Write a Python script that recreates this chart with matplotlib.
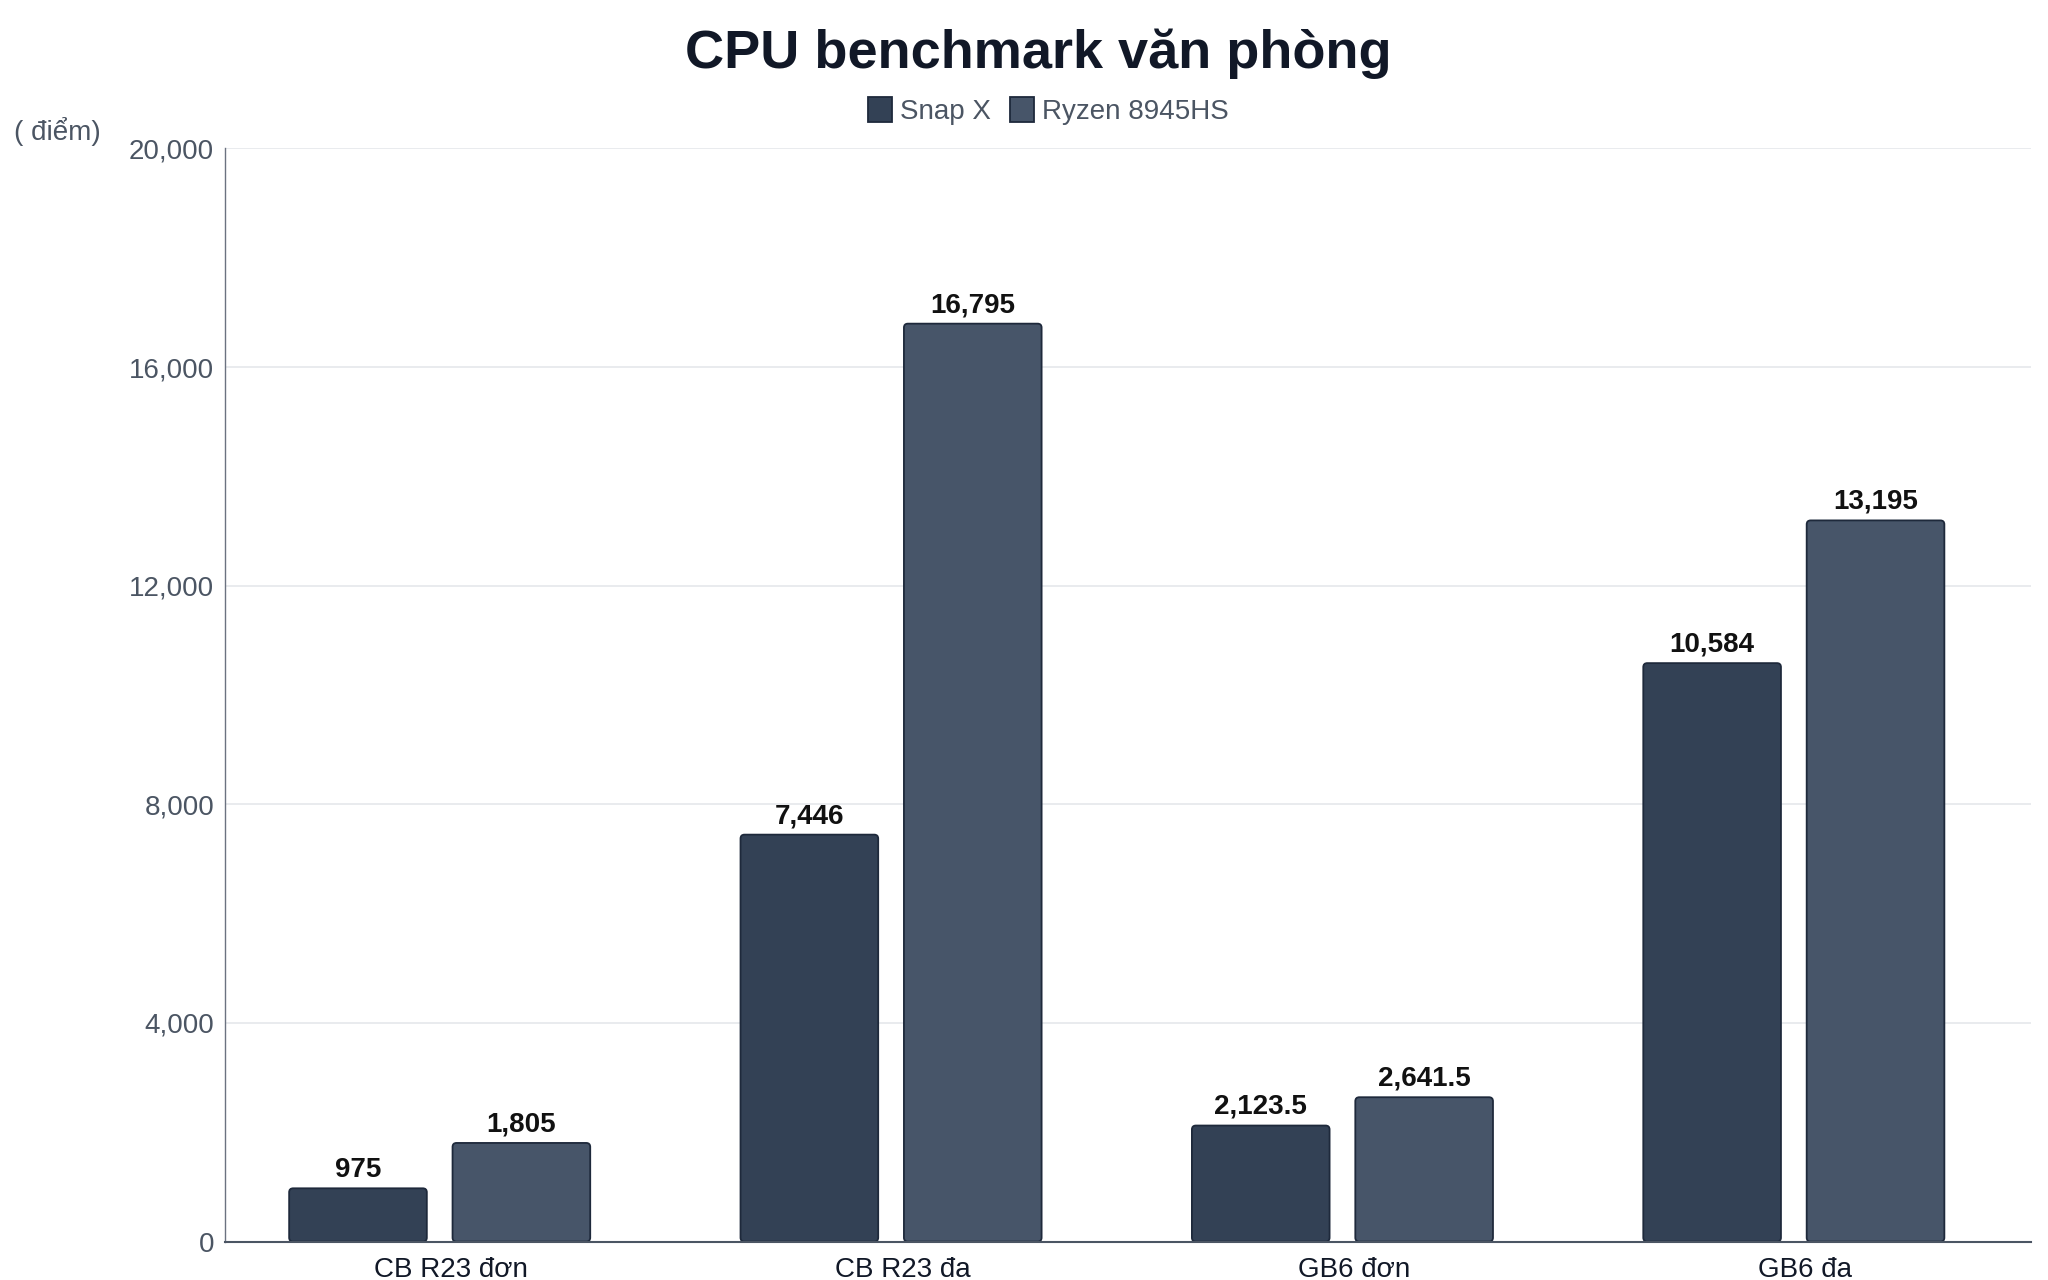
import matplotlib
matplotlib.use("Agg")
import matplotlib.pyplot as plt
from matplotlib.patches import FancyBboxPatch, Patch
import numpy as np

plt.rcParams['font.family'] = ['Liberation Sans', 'DejaVu Sans']

# Data
categories = ['CB R23 đơn', 'CB R23 đa', 'GB6 đơn', 'GB6 đa']
series_names = ['Snap X', 'Ryzen 8945HS']
snap_x = [975, 7446, 2123.5, 10584]
ryzen = [1805, 16795, 2641.5, 13195]
y_ticks = [0, 4000, 8000, 12000, 16000, 20000]

colors = ['#334155', '#475569']
edge = '#1e293b'

fig = plt.figure(figsize=(20.48, 12.8), dpi=100)
ax = fig.add_axes([0.110, 0.030, 0.8816, 0.854])
ax.set_xlim(-0.5, len(categories) - 0.5)
ax.set_ylim(0, 20000)

x = np.arange(len(categories))
width = 0.305
b1 = ax.bar(x - 0.206, snap_x, width, color=colors[0], zorder=3)
b2 = ax.bar(x + 0.156, ryzen, width, color=colors[1], zorder=3)

# swap plain rectangles for slightly rounded ones
fig.canvas.draw()
bb = ax.get_window_extent()
px_x = bb.width / (len(categories))          # pixels per x unit
px_y = bb.height / 20000                       # pixels per y unit
aspect = px_x / px_y
for bars, c in ((b1, colors[0]), (b2, colors[1])):
    for r in bars:
        r.set_visible(False)
        p = FancyBboxPatch((r.get_x(), 0), r.get_width(), r.get_height(),
                           boxstyle=f"round,pad=0,rounding_size={4 / px_x}",
                           mutation_aspect=aspect, facecolor=c, edgecolor=edge,
                           linewidth=1.3, zorder=3)
        ax.add_patch(p)


def fmt(v):
    s = f"{v:,.1f}"
    return s[:-2] if s.endswith('.0') else s


for bars in (b1, b2):
    ax.bar_label(bars, labels=[fmt(b.get_height()) for b in bars], padding=4,
                 fontsize=20, fontweight='bold', color='#111111')

ax.set_yticks(y_ticks)
ax.set_yticklabels([f"{t:,}" for t in y_ticks])
ax.set_xticks(x)
ax.set_xticklabels(categories)
ax.tick_params(axis='y', length=0, labelsize=20, labelcolor='#4b5563', pad=8)
ax.tick_params(axis='x', length=0, labelsize=20, labelcolor='#111827', pad=11)

ax.grid(axis='y', color='#e5e7eb', linewidth=1.2, zorder=0)
ax.set_axisbelow(True)
for s in ('top', 'right'):
    ax.spines[s].set_visible(False)
ax.spines['left'].set_color('#6b7280')
ax.spines['left'].set_linewidth(1.0)
ax.spines['bottom'].set_color('#4b5563')
ax.spines['bottom'].set_linewidth(1.5)
ax.spines['bottom'].set_zorder(4)

fig.text(0.507, 0.958, 'CPU benchmark văn phòng', ha='center', va='center',
         fontsize=39, fontweight='bold', color='#111827')
fig.text(0.007, 0.8975, '( điểm)', ha='left', va='center', fontsize=20, color='#4b5563')

handles = [Patch(facecolor=c, edgecolor=edge, linewidth=1.3) for c in colors]
fig.legend(handles=handles, labels=series_names, loc='center', bbox_to_anchor=(0.512, 0.913),
           ncol=2, frameon=False, fontsize=20, labelcolor='#4b5563',
           handlelength=0.85, handleheight=1.0, handletextpad=0.3, columnspacing=0.7)

fig.savefig('out.png', dpi=100, facecolor='white')
